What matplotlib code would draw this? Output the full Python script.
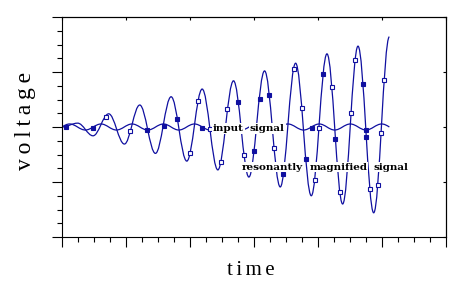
import matplotlib
matplotlib.use('Agg')
import matplotlib.pyplot as plt
from matplotlib.path import Path
from matplotlib.patches import PathPatch
from matplotlib.ticker import MultipleLocator, NullLocator

# extrema of the resonantly magnified signal (time, voltage)
res_t = [0, 0.49, 0.97, 1.46, 1.95, 2.43, 2.92, 3.41, 3.90, 4.38, 4.87,
         5.36, 5.84, 6.33, 6.82, 7.30, 7.79, 8.28, 8.77, 9.25, 9.74, 10.23]
res_v = [0, 0.07, -0.16, 0.24, -0.31, 0.40, -0.48, 0.55, -0.62, 0.69, -0.78,
         0.84, -0.91, 1.02, -1.09, 1.16, -1.25, 1.33, -1.40, 1.47, -1.56, 1.64]

# extrema of the input signal (starts and ends at zero)
in_t = [0, 0.24, 0.73, 1.22, 1.70, 2.19, 2.68, 3.17, 3.65, 4.14, 4.63, 5.11,
        5.60, 6.09, 6.58, 7.06, 7.55, 8.04, 8.52, 9.01, 9.50, 9.99, 10.23]
in_v = [0, 0.055, -0.055, 0.055, -0.055, 0.055, -0.055, 0.055, -0.055, 0.055,
        -0.055, 0.055, -0.055, 0.055, -0.055, 0.055, -0.055, 0.055, -0.055,
        0.055, -0.055, 0.055, 0]

# sample points drawn as squares
open_t = [1.37, 2.13, 3.99, 4.24, 4.62, 4.96, 5.16, 5.69, 6.63, 7.24, 7.49,
          7.91, 8.03, 8.43, 8.69, 9.02, 9.15, 9.62, 9.87, 9.97, 10.05]
open_v = [0.18, -0.07, -0.47, 0.47, -0.04, -0.64, 0.32, -0.50, -0.38, 1.05,
          0.35, -0.96, -0.01, 0.73, -1.18, 0.26, 1.22, -1.13, -1.06, -0.10, 0.85]
fill_t = [0.125, 0.96, 2.67, 3.18, 3.60, 4.37, 5.51, 6.01, 6.18, 6.48, 6.92,
          7.62, 7.80, 8.17, 8.54, 9.41, 9.51, 9.51]
fill_v = [0.0, -0.01, -0.05, 0.02, 0.14, -0.01, 0.45, -0.43, 0.51, 0.58, -0.86,
          -0.59, -0.01, 0.96, -0.22, 0.79, -0.05, -0.18]

# in-plot labels: word, time, voltage (baseline)
words = [('input', 4.72, -0.078), ('signal', 5.875, -0.078),
         ('resonantly', 5.615, -0.773), ('magnified', 7.728, -0.773),
         ('signal', 9.75, -0.773)]

BLUE = '#1010a0'


def wave_path(ts, vs, sine_ends=False):
    # cubic bezier through the extrema, flat tangents at each extremum
    verts = [(ts[0], vs[0])]
    codes = [Path.MOVETO]
    n = len(ts) - 1
    for i in range(n):
        t0, v0, t1, v1 = ts[i], vs[i], ts[i + 1], vs[i + 1]
        h = t1 - t0
        c = 0.3634 * h
        s0 = s1 = 0.0
        if sine_ends and i == 0:
            s0 = (v1 - v0) * 1.5708 / h
        if sine_ends and i == n - 1:
            s1 = (v1 - v0) * 1.5708 / h
        verts += [(t0 + c, v0 + s0 * c), (t1 - c, v1 - s1 * c), (t1, v1)]
        codes += [Path.CURVE4] * 3
    return Path(verts, codes)


fig = plt.figure(figsize=(4.63, 2.93), dpi=100)
ax = fig.add_axes([62 / 463, 1 - 237 / 293, 384 / 463, 220 / 293])

ax.add_patch(PathPatch(wave_path(res_t, res_v), fc='none', ec=BLUE, lw=0.9))
ax.add_patch(PathPatch(wave_path(in_t, in_v, True), fc='none', ec=BLUE, lw=0.9))
ax.plot(open_t, open_v, 's', ms=2.6, mfc='white', mec=BLUE, mew=0.8, ls='none')
ax.plot(fill_t, fill_v, 's', ms=2.6, mfc=BLUE, mec=BLUE, mew=0.8, ls='none')

for w, t, v in words:
    ax.text(t, v, w, fontsize=7.5, fontweight='bold', family='DejaVu Serif',
            va='baseline', ha='left', zorder=5,
            bbox=dict(facecolor='white', edgecolor='none', pad=0.6))

ax.set_xlim(0, 12)
ax.set_ylim(-2, 2)
ax.xaxis.set_major_locator(MultipleLocator(2))
ax.xaxis.set_minor_locator(MultipleLocator(0.5))
ax.yaxis.set_major_locator(MultipleLocator(1))
ax.yaxis.set_minor_locator(MultipleLocator(0.25))
ax.tick_params(which='major', direction='out', length=7, width=0.8,
               labelbottom=False, labelleft=False)
ax.tick_params(which='minor', direction='out', length=3.6, width=0.8)
for s in ax.spines.values():
    s.set_linewidth(0.8)

top = ax.secondary_xaxis('top')
top.xaxis.set_major_locator(MultipleLocator(2))
top.xaxis.set_minor_locator(NullLocator())
top.tick_params(direction='in', length=2.5, width=0.8, labeltop=False)
top.spines['top'].set_linewidth(0.8)
right = ax.secondary_yaxis('right')
right.yaxis.set_major_locator(MultipleLocator(1))
right.yaxis.set_minor_locator(NullLocator())
right.tick_params(direction='in', length=2.5, width=0.8, labelright=False)
right.spines['right'].set_linewidth(0.8)

serif = ['Liberation Serif', 'DejaVu Serif']
fig.text(251 / 463, 1 - 275 / 293, '\u200a\u200a'.join('time'), fontsize=15,
         family=serif, ha='center', va='baseline')
fig.text(31 / 463, 1 - 121 / 293, '\u2009'.join('voltage'), fontsize=17,
         family=serif, ha='center', va='baseline', rotation=90,
         rotation_mode='anchor')

fig.savefig('out.png', dpi=100)
